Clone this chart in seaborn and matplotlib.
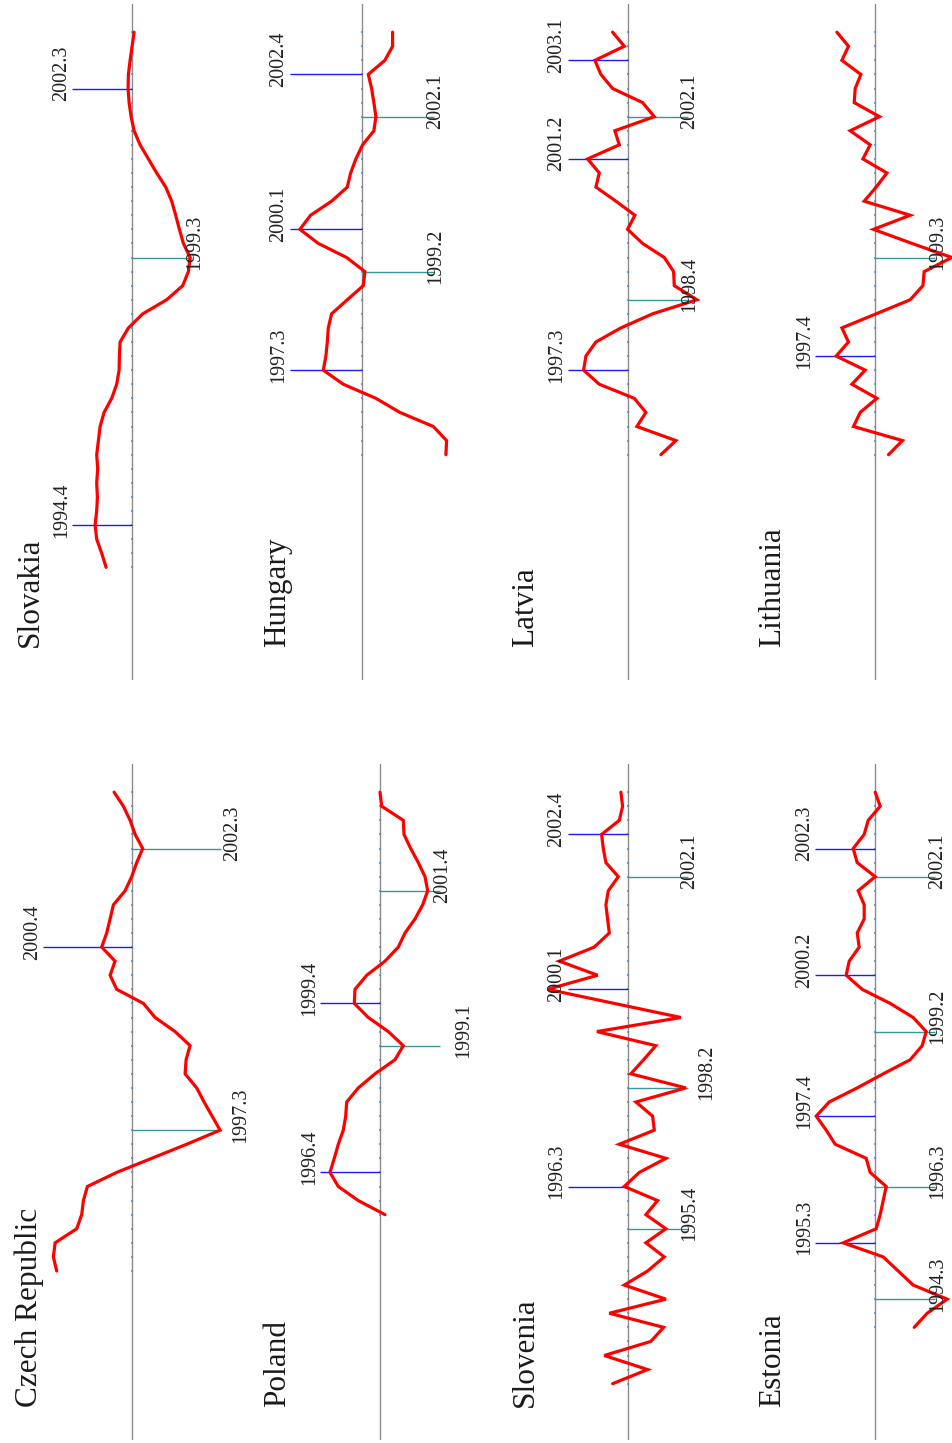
import numpy as np
import pandas as pd
import matplotlib
matplotlib.use("Agg")
import matplotlib.pyplot as plt
import seaborn as sns

# ---- quarterly cyclical components (deviation from trend) ----
czech_start = "1995.1"
czech_values = [7.57, 7.9, 7.73, 5.57, 5.07, 4.9, 4.5, 1.57, -1.93, -5.43, -8.77, -7.97,
                -7.17, -6.43, -5.27, -5.37, -5.77, -4.27, -2.27, -1.1, 1.57, 2.23, 1.73, 3.07,
                2.57, 2.23, 1.9, 0.73, 0.07, -0.43, -1.03, -0.27, 0.23, 0.9, 1.83]
czech_peaks = ["2000.4"]
czech_troughs = ["1997.3", "2002.3"]

slovakia_start = "1994.1"
slovakia_values = [2.63, 3.07, 3.57, 3.73, 3.57, 3.5, 3.57, 3.47, 3.57, 3.4, 3.23, 2.83,
                   2.07, 1.57, 1.33, 1.3, 1.23, 0.4, -1.03, -3.43, -5.03, -5.6, -5.77, -5.1,
                   -4.7, -4.33, -3.93, -3.33, -2.43, -1.6, -0.77, -0.17, 0.13, 0.33, 0.43, 0.4,
                   0.23, 0.03, -0.17]
slovakia_peaks = ["1994.4", "2002.3"]
slovakia_troughs = ["1999.3"]

poland_start = "1996.1"
poland_values = [-0.5, 2.17, 4.17, 5.0, 4.57, 4.17, 3.67, 3.43, 3.33, 2.17, 0.5, -1.5,
                 -2.33, -0.83, 1.17, 2.57, 2.5, 1.33, -0.5, -1.83, -2.5, -3.5, -4.27, -4.77,
                 -4.5, -3.83, -3.07, -2.4, -2.33, -0.17, 0.0]
poland_peaks = ["1996.4", "1999.4"]
poland_troughs = ["1999.1", "2001.4"]

hungary_start = "1996.1"
hungary_values = [-8.43, -8.5, -7.17, -3.83, -1.43, 1.83, 3.83, 3.57, 3.43, 3.33, 3.0, 1.43,
                  -0.17, -0.33, 1.5, 4.33, 6.17, 5.1, 3.0, 1.43, 1.1, 0.57, -0.1, -1.23,
                  -1.43, -1.23, -1.0, -0.67, -2.33, -3.1, -3.1]
hungary_peaks = ["1997.3", "2000.1", "2002.4"]
hungary_troughs = ["1999.2", "2002.1"]

slovenia_start = "1993.1"
slovenia_values = [1.5, -2.0, 2.33, -2.33, -3.6, 1.83, -3.83, 0.33, -2.0, -3.67, -1.83, -3.83,
                   -1.83, -3.0, 0.33, -1.17, -3.83, 0.83, -2.67, -2.5, -0.83, -5.83, -0.33, -1.6,
                   -2.83, 3.07, -5.33, 1.33, 8.0, 3.0, 6.83, 3.33, 1.83, 2.0, 2.17, 1.93,
                   0.93, 2.17, 2.43, 2.6, 0.83, 0.5, 0.67]
slovenia_peaks = ["1996.3", "2000.1", "2002.4"]
slovenia_troughs = ["1995.4", "1998.2", "2002.1"]

latvia_start = "1996.1"
latvia_values = [-3.33, -4.83, -0.93, -1.83, -0.67, 2.83, 4.4, 4.17, 3.17, 0.67, -2.5, -6.93,
                 -4.67, -4.6, -3.67, -1.5, 0.0, -0.73, 1.17, 3.17, 2.83, 4.0, 0.83, 1.27,
                 -2.67, -1.5, 1.5, 2.67, 3.27, 0.33, 1.5]
latvia_peaks = ["1997.3", "2001.2", "2003.1"]
latvia_troughs = ["1998.4", "2002.1"]

estonia_start = "1994.1"
estonia_values = [-3.9, -5.2, -7.2, -3.8, -2.3, -0.8, 3.2, -0.1, -0.5, -0.8, -1.1, 0.5,
                  0.9, 4.0, 4.9, 5.9, 4.6, 1.8, -0.8, -3.5, -4.7, -5.1, -3.8, -1.5,
                  1.3, 2.9, 2.6, 1.6, 1.8, 1.1, 1.1, 1.7, 0.0, 1.8, 2.2, 1.1,
                  0.7, -0.5, 0.0]
estonia_peaks = ["1995.3", "1997.4", "2000.2", "2002.3"]
estonia_troughs = ["1994.3", "1996.3", "1999.2", "2002.1"]

lithuania_start = "1996.1"
lithuania_values = [-1.33, -2.73, 2.17, 1.5, -0.17, 2.33, 1.0, 3.9, 2.67, 3.33, -0.1, -3.5,
                    -4.77, -4.9, -7.67, -3.67, 0.17, -3.5, 1.1, -0.1, -1.17, 1.23, 0.5, 2.5,
                    -0.43, 2.1, 2.0, 1.43, 3.33, 2.67, 3.83]
lithuania_peaks = ["1997.4"]
lithuania_troughs = ["1999.3"]

panels = [
    ("Czech Republic", czech_start, czech_values, czech_peaks, czech_troughs),
    ("Poland", poland_start, poland_values, poland_peaks, poland_troughs),
    ("Slovenia", slovenia_start, slovenia_values, slovenia_peaks, slovenia_troughs),
    ("Estonia", estonia_start, estonia_values, estonia_peaks, estonia_troughs),
    ("Slovakia", slovakia_start, slovakia_values, slovakia_peaks, slovakia_troughs),
    ("Hungary", hungary_start, hungary_values, hungary_peaks, hungary_troughs),
    ("Latvia", latvia_start, latvia_values, latvia_peaks, latvia_troughs),
    ("Lithuania", lithuania_start, lithuania_values, lithuania_peaks, lithuania_troughs),
]

# ---- page layout (pixels); the page is printed in landscape, turned sideways ----
# name: (row, half, zero-line offset inside the row, turning-point marker reach)
layout = {
    "Czech Republic": (0, 1, 132.4, 8.9),
    "Poland": (1, 1, 132.4, 6.0),
    "Slovenia": (2, 1, 132.4, 6.0),
    "Estonia": (3, 1, 132.4, 6.0),
    "Slovakia": (0, 0, 132.4, 6.0),
    "Hungary": (1, 0, 114.0, 7.2),
    "Latvia": (2, 0, 132.4, 6.0),
    "Lithuania": (3, 0, 132.4, 6.0),
}
# extra outward shift (px) of a few trough labels, to keep them clear of the curve
label_shift = {("Czech Republic", "1997.3"): 17, ("Czech Republic", "2002.3"): 9,
               ("Poland", "1999.1"): 21, ("Slovenia", "1998.2"): 17}

W, H = 953, 1443
ROW = 247.6
COL_W = 205
PX = 10.0                      # pixels per value unit
T0, T1 = 1992.0, 2004.0
HALF_TOP = {0: 4, 1: 764}
AXIS_LEN = 676
YR_PER_PX = (T1 - T0) / AXIS_LEN

RED = "#ff0000"
BLUE = "#1a1aff"
TEAL = "#3a9797"
GREY = "#8c8c8c"
TICK = "#5a86c4"
TXT = "#222222"

sns.set_theme(style="white")
plt.rcParams["font.family"] = ["Liberation Serif", "DejaVu Serif"]

fig = plt.figure(figsize=(W / 100, H / 100), dpi=100)


def qtime(label):
    year, q = label.split(".")
    return int(year) + (int(q) - 1) / 4


for name, start, values, peaks, troughs in panels:
    row, half, base_off, reach = layout[name]
    c0 = ROW * row
    top = HALF_TOP[half]
    ax = fig.add_axes([c0 / W, (H - top - AXIS_LEN) / H, COL_W / W, AXIS_LEN / H])
    ax.set_xlim(base_off / PX, -(COL_W - base_off) / PX)
    ax.set_ylim(T0, T1)
    ax.set_axis_off()

    t = qtime(start) + np.arange(len(values)) / 4
    df = pd.DataFrame({"time": t, "value": values, "zero": 0.0})

    # zero line with a small tick at every observed quarter
    ax.axvline(0, color=GREY, lw=1.0, zorder=1)
    sns.scatterplot(data=df, x="zero", y="time", marker="_", s=3, linewidth=1.1,
                    color=TICK, ax=ax, zorder=2, clip_on=False)

    label_dy = 12.5 * YR_PER_PX
    for lab in peaks:
        tp = qtime(lab)
        ax.plot([0, reach], [tp, tp], color=BLUE, lw=1.0, zorder=2,
                solid_capstyle="butt", clip_on=False)
        ax.text(reach + 0.6, tp - label_dy, lab, rotation=90, rotation_mode="anchor",
                ha="left", va="baseline", fontsize=14.5, color=TXT, zorder=4)
    for lab in troughs:
        tp = qtime(lab)
        ax.plot([0, -reach], [tp, tp], color=TEAL, lw=1.0, zorder=2,
                solid_capstyle="butt", clip_on=False)
        shift = label_shift.get((name, lab), 0) / PX
        ax.text(-(reach + 0.7 + shift), tp - label_dy, lab, rotation=90,
                rotation_mode="anchor", ha="left", va="baseline", fontsize=14.5,
                color=TXT, zorder=4)

    sns.lineplot(data=df, x="value", y="time", orient="y", sort=True, estimator=None,
                 color=RED, lw=2.3, ax=ax, zorder=3, clip_on=False,
                 solid_joinstyle="miter")

    ax.text(base_off / PX - 37.5 / PX, T0 + 33 * YR_PER_PX, name, rotation=90,
            rotation_mode="anchor", ha="left", va="baseline", fontsize=22.5,
            color="#1a1a1a")

fig.savefig("out.png", dpi=100)
